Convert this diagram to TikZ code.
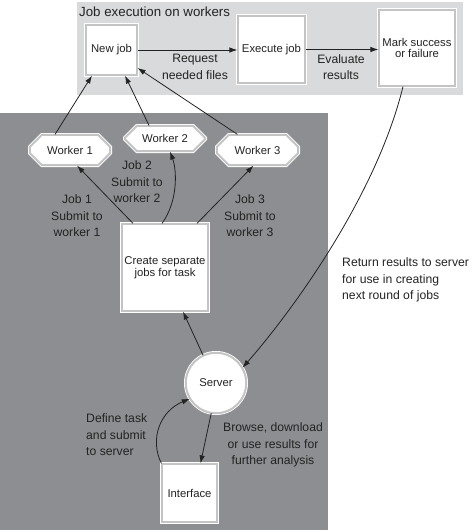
\documentclass[tikz,border=0pt]{standalone}
\usepackage{fontspec}
\setmainfont{Liberation Sans}
\usetikzlibrary{shapes.misc,shapes.geometric,arrows.meta,calc}
\definecolor{darkbg}{RGB}{140,142,145}
\definecolor{lightbg}{RGB}{216,218,219}
\definecolor{ringgray}{RGB}{196,196,196}
\definecolor{ink}{RGB}{35,35,35}
\begin{document}
\begin{tikzpicture}[x=1pt,y=-1pt,
  ring/.style={draw=white, double=ringgray, line width=0.8pt, double distance=2pt, fill=white, text=ink, inner sep=0pt, align=center, font=\fontsize{11.3}{11.5}\selectfont},
  box/.style={ring, rectangle},
  worker/.style={ring, chamfered rectangle, chamfered rectangle xsep=13pt, chamfered rectangle ysep=8pt},
  lbl/.style={text=ink, inner sep=0pt, font=\fontsize{12.2}{16.5}\selectfont},
  arr/.style={draw=ink, line width=0.8pt, -{Latex[length=8pt,width=5.5pt]}}
]
\useasboundingbox (0,0) rectangle (472,532);
% panels
\fill[lightbg] (77,2) rectangle (463,95);
\fill[darkbg] (0,113) rectangle (328,530);
\node[lbl, anchor=west, font=\fontsize{13.3}{15}\selectfont] (title) at (79,12) {Job execution on workers};
% top row
\node[box, minimum width=51.4pt, minimum height=50.4pt] (newjob) at (111.5,50) {New job};
\node[box, minimum width=67.4pt, minimum height=67.4pt] (exec) at (271.5,49.5) {Execute job};
\node[box, minimum width=76.4pt, minimum height=76.4pt] (mark) at (417,48) {Mark success\\or failure};
% workers
\node[worker, minimum width=80.4pt, minimum height=30.4pt] (w1) at (70,150) {Worker 1};
\node[worker, minimum width=80.4pt, minimum height=25.4pt] (w2) at (165,138.5) {Worker 2};
\node[worker, minimum width=81.4pt, minimum height=30.4pt] (w3) at (257.5,150) {Worker 3};
% main column
\node[box, minimum width=86.4pt, minimum height=87.4pt] (create) at (165,267.5) {Create separate\\jobs for task};
\node[ring, circle, minimum size=60.4pt] (server) at (216,383) {Server};
\node[box, minimum width=55.4pt, minimum height=58.4pt] (interface) at (189.5,493) {Interface};
% labels
\node[lbl, align=center] (lreq) at (195,67) {Request\\needed files};
\node[lbl, align=center] (leval) at (341,67) {Evaluate\\results};
\node[lbl, align=center] (lj1) at (77,216) {Job 1\\Submit to\\worker 1};
\node[lbl, align=center] (lj2) at (137,182) {Job 2\\Submit to\\worker 2};
\node[lbl, align=center] (lj3) at (250,216) {Job 3\\Submit to\\worker 3};
\node[lbl, align=left, anchor=west] (lret) at (342,280) {Return results to server\\for use in creating\\next round of jobs};
\node[lbl, align=left, anchor=west] (ldef) at (86,435) {Define task\\and submit\\to server};
\node[lbl, align=center] (lbro) at (273,445) {Browse, download\\or use results for\\further analysis};
% connectors
\draw[arr] (newjob.east) -- (newjob.east -| exec.west);
\draw[arr] (exec.east) -- (exec.east -| mark.west);
\draw[arr] ([xshift=-15pt]w1.north) -- ([xshift=-19.5pt]newjob.south);
\draw[arr] ([xshift=-16pt]w2.north) -- ([xshift=13.5pt]newjob.south);
\draw[arr] ([xshift=-20pt]w3.north) -- ([yshift=-18pt]newjob.east);
\draw[arr] ([xshift=-32pt]create.north) -- ([xshift=7pt]w1.south);
\draw[arr] ([xshift=-3pt]create.north) .. controls +(16,-22) and +(7,19) .. ([xshift=5pt]w2.south);
\draw[arr] ([xshift=32pt]create.north) -- ([xshift=-4pt]w3.south);
\draw[arr] (server.115) -- ([xshift=18pt]create.south);
\draw[arr] (server.-99) -- ([xshift=11pt]interface.north);
\draw[arr] (interface.north west) .. controls +(-12,-24) and +(-30,12.5) .. (server.211);
\draw[arr] ([xshift=-14pt]mark.south) .. controls +(-28,114) and +(44,-50) .. (server.30);
\end{tikzpicture}
\end{document}
